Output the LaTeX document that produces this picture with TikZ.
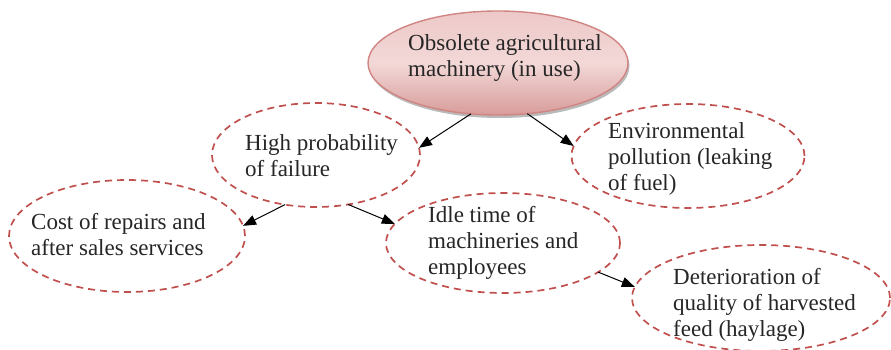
\documentclass[tikz,border=0pt]{standalone}
\usepackage{fontspec}
\setmainfont{Liberation Serif}
\usetikzlibrary{shapes.geometric,arrows.meta,shadows}
\definecolor{dashred}{HTML}{C0504D}
\definecolor{pinktop}{HTML}{EDC9C8}
\definecolor{pinkmid}{HTML}{F2D8D7}
\definecolor{pinkbot}{HTML}{D89C9A}
\definecolor{pinkedge}{HTML}{D08583}
\tikzset{
  ell/.style={ellipse, draw=dashred, dash pattern=on 7pt off 5pt, line width=1.7pt, inner sep=0pt, outer sep=0pt},
  mainell/.style={ellipse, draw=pinkedge, line width=1.4pt, inner sep=0pt, outer sep=0pt,
    top color=pinktop, bottom color=pinkbot, middle color=pinkmid,
    drop shadow={opacity=0.45, shadow xshift=1.5pt, shadow yshift=-3pt, fill=black!60}},
  lbl/.style={anchor=north west, inner sep=0pt, align=left, font=\fontsize{23}{26}\selectfont, text=black!85},
  arr/.style={-{Triangle[length=13pt,width=10pt]}, line width=1pt, black},
}
\begin{document}
\begin{tikzpicture}[x=1pt,y=-1pt]
\useasboundingbox (0,0) rectangle (891,350);
% ellipses
\node[mainell, minimum width=260pt, minimum height=104pt] (top) at (498,63) {};
\node[ell, minimum width=208pt, minimum height=104pt] (hp) at (316,155) {};
\node[ell, minimum width=233pt, minimum height=104pt] (env) at (688,156) {};
\node[ell, minimum width=236pt, minimum height=112pt] (cost) at (127,236) {};
\node[ell, minimum width=234pt, minimum height=100pt] (idle) at (503,243) {};
\node[ell, minimum width=258pt, minimum height=106pt] (det) at (761,298) {};
% labels
\node[lbl] (ttop) at (408,34) {Obsolete agricultural\\machinery (in use)};
\node[lbl] (thp) at (245,134) {High probability\\of failure};
\node[lbl] (tenv) at (608,122) {Environmental\\pollution (leaking\\of fuel)};
\node[lbl] (tcost) at (31,213) {Cost of repairs and\\after sales services};
\node[lbl] (tidle) at (428,206) {Idle time of\\machineries and\\employees};
\node[lbl] (tdet) at (673,268) {Deterioration of\\quality of harvested\\feed (haylage)};
% arrows
\draw[arr] (top.242.6) -- (hp.4.4);
\draw[arr] (top.300.6) -- (env.175.6);
\draw[arr] (hp.238.6) -- (cost.5.3);
\draw[arr] (hp.303.7) -- (idle.170.8);
\draw[arr] (idle.343.9) -- (det.175.1);
\end{tikzpicture}
\end{document}
